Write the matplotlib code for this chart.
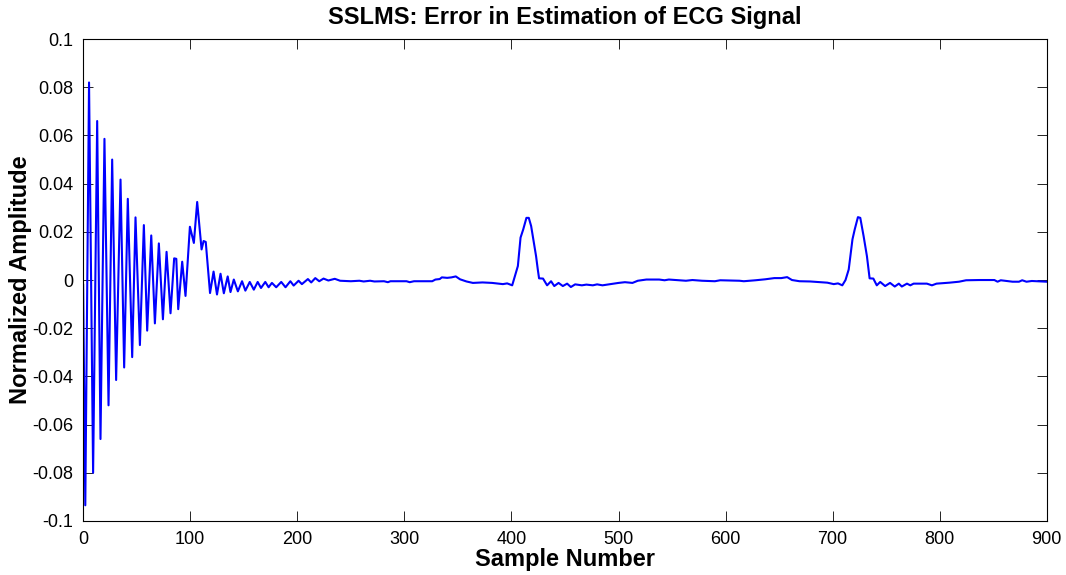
import matplotlib
matplotlib.use('Agg')
import matplotlib.pyplot as plt
from matplotlib.ticker import FormatStrFormatter

plt.rcParams['font.family'] = ['Liberation Sans', 'DejaVu Sans']
plt.rcParams['axes.unicode_minus'] = False

# sample index and error value
samples = [0, 2, 5.5, 9.3, 13.1, 16.2, 19.9, 23.7, 27.1, 30.8, 34.9, 38.3, 41.7, 45.8,
           48.9, 53.0, 56.7, 59.8, 63.6, 67.0, 70.7, 74.5, 77.9, 81.6, 85.0, 87.0, 88.8,
           92.5, 95.6, 99.7, 103.4, 106.5, 110.6, 112.5, 114.5, 118.5, 121.8, 125, 128.3,
           131.4, 135, 137.6, 140.7, 144.5, 148.4, 151.5, 155.6, 159.4, 163, 166.1, 170.1,
           173.2, 176.3, 180.3, 185, 189, 193.5, 196.6, 201.2, 204.3, 209.9, 213, 216.8,
           220.5, 224.5, 229, 235, 240, 250, 258, 262, 268, 272, 281, 284.6, 287, 302,
           305, 309, 326, 329, 333, 335, 340, 344, 348, 352, 358, 364, 373, 382, 392,
           396, 400.7, 403.8, 406, 408.5, 411, 414, 416.2, 418.4, 420.9, 423, 424.6,
           425.8, 429.5, 433.3, 437, 440, 444, 448, 452, 455.5, 459.5, 465.8, 470, 476,
           480, 485, 491, 500, 506, 513, 518, 526, 538, 543, 547, 563, 569, 578, 590,
           595, 613, 617, 628, 637, 645.5, 652, 657.5, 662, 669, 679, 695, 701, 705,
           709, 712, 715, 718.5, 720.6, 723.6, 725.8, 728.9, 732, 734.5, 738, 741.2,
           744.4, 749, 753.6, 758, 761.8, 764.6, 769.4, 772.5, 775.6, 788, 792.7, 797,
           809, 818, 824.6, 837, 851, 854, 857, 868, 874, 877, 881, 886, 900]

error = [-0.002, -0.0935, 0.082, -0.080, 0.066, -0.066, 0.0586, -0.052, 0.050, -0.0415,
         0.0417, -0.0363, 0.0337, -0.032, 0.026, -0.027, 0.0228, -0.021, 0.0185, -0.018,
         0.0152, -0.0163, 0.0117, -0.0138, 0.0090, 0.0088, -0.0121, 0.0076, -0.0066,
         0.0221, 0.0154, 0.0324, 0.0127, 0.0162, 0.0158, -0.0054, 0.0035, -0.0060,
         0.0026, -0.0055, 0.0015, -0.0050, 0.0002, -0.0047, -0.0005, -0.0044, -0.0008,
         -0.0040, -0.0008, -0.0033, -0.0008, -0.0030, -0.0012, -0.0030, -0.0008, -0.0030,
         -0.0005, -0.0023, -0.0003, -0.0017, 0.0004, -0.0010, 0.0008, -0.0005, 0.0006,
         -0.0002, 0.0005, -0.0003, -0.0005, -0.0003, -0.0006, -0.0003, -0.0006, -0.0005,
         -0.0009, -0.0005, -0.0005, -0.0009, -0.0005, -0.0005, 0.0002, 0.0004, 0.0011,
         0.0009, 0.0011, 0.0015, 0.0003, -0.0006, -0.0012, -0.0010, -0.0012, -0.0017,
         -0.0014, -0.0022, 0.0024, 0.0058, 0.0176, 0.0210, 0.0258, 0.0258, 0.0224,
         0.0155, 0.0099, 0.0044, 0.0007, 0.0006, -0.0022, -0.0005, -0.0025, -0.0012,
         -0.0025, -0.0015, -0.0029, -0.0018, -0.0022, -0.0019, -0.0022, -0.0018, -0.0022,
         -0.0018, -0.0012, -0.0009, -0.0012, -0.0003, 0.0002, 0.0002, -0.0001, 0.0002,
         -0.0003, 0.0000, -0.0003, -0.0005, -0.0001, -0.0003, -0.0005, -0.0001, 0.0003,
         0.0008, 0.0008, 0.0012, 0.0000, -0.0005, -0.0006, -0.0011, -0.0017, -0.0014,
         -0.0022, 0.0000, 0.0044, 0.0169, 0.0210, 0.0261, 0.0258, 0.0182, 0.0099, 0.0007,
         0.0006, -0.0022, -0.0008, -0.0025, -0.0012, -0.0027, -0.0015, -0.0027, -0.0015,
         -0.0022, -0.0015, -0.0015, -0.0022, -0.0015, -0.0011, -0.0007, -0.0001, 0.0000,
         0.0000, -0.0007, -0.0001, -0.0007, -0.0007, -0.0001, -0.0007, -0.0004, -0.0007]

x_ticks = [0, 100, 200, 300, 400, 500, 600, 700, 800, 900]
y_ticks = [-0.1, -0.08, -0.06, -0.04, -0.02, 0, 0.02, 0.04, 0.06, 0.08, 0.1]

fig = plt.figure(figsize=(10.66, 5.75), dpi=100)
ax = fig.add_axes([0.078, 0.094, 0.904, 0.838])

ax.plot(samples, error, color='#0000ff', linewidth=1.5)

ax.set_xlim(0, 900)
ax.set_ylim(-0.1, 0.1)
ax.set_xticks(x_ticks)
ax.set_yticks(y_ticks)
ax.yaxis.set_major_formatter(FormatStrFormatter('%g'))
ax.tick_params(direction='in', length=7, width=0.6, labelsize=13,
               top=True, right=True, pad=7)
for s in ax.spines.values():
    s.set_linewidth(0.8)

ax.set_title('SSLMS: Error in Estimation of ECG Signal', fontsize=17, fontweight='bold', pad=11)
ax.set_xlabel('Sample Number', fontsize=17, fontweight='bold', labelpad=0)
ax.set_ylabel('Normalized Amplitude', fontsize=17, fontweight='bold', labelpad=0)

fig.savefig('out.png', dpi=100)
